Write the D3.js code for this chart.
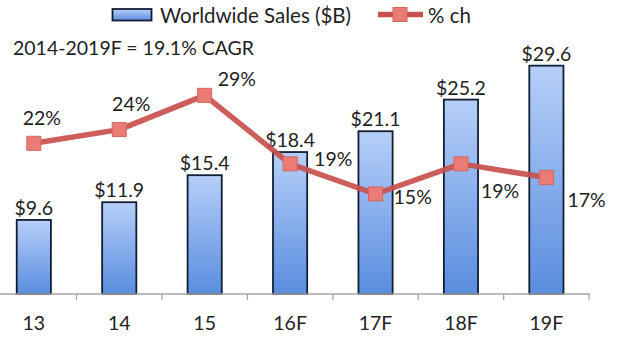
<!DOCTYPE html>
<html><head><meta charset="utf-8">
<script src="https://cdn.jsdelivr.net/npm/d3@7"></script>
<style>
html,body{margin:0;padding:0;background:#fff;}
svg{display:block;font-family:Lato,"Open Sans",sans-serif;}
</style></head>
<body><svg id="chart" width="618" height="338"></svg>
<script>
const categories = ["13","14","15","16F","17F","18F","19F"];
const salesValues = [9.6, 11.9, 15.4, 18.4, 21.1, 25.2, 29.6];
const pctChange = [22, 24, 29, 19, 14.6, 19, 17];
const salesLabels = ["$9.6","$11.9","$15.4","$18.4","$21.1","$25.2","$29.6"];
const pctLabels = ["22%","24%","29%","19%","15%","19%","17%"];
const salesDomain = [0, 35];
const pctDomain = [0, 40];
const legendItems = ["Worldwide Sales ($B)", "% ch"];
const noteText = "2014-2019F = 19.1% CAGR";

// label placement (offset of text relative to point), styling config
const pctLabelPlace = [
  {anchor:"middle", dx:8, dy:-18},
  {anchor:"middle", dx:12, dy:-19},
  {anchor:"start", dx:13, dy:-9},
  {anchor:"start", dx:24, dy:2},
  {anchor:"start", dx:18, dy:10},
  {anchor:"start", dx:20, dy:34},
  {anchor:"start", dx:21, dy:29}
];

const svg = d3.select("#chart");
const baseY = 294;
const fontSize = 19.5;

const defs = svg.append("defs");
const grad = defs.append("linearGradient").attr("id","barGrad")
  .attr("x1",0).attr("y1",0).attr("x2",0).attr("y2",1);
grad.append("stop").attr("offset","0%").attr("stop-color","#b6cff8");
grad.append("stop").attr("offset","100%").attr("stop-color","#5a8ddf");

const x = d3.scaleBand().domain(categories).range([-8.9, 589.1])
  .paddingInner(0.6).paddingOuter(0.3);
const y = d3.scaleLinear().domain(salesDomain).range([baseY, 24]);
const y2 = d3.scaleLinear().domain(pctDomain).range([baseY, 20]);

// bars
svg.append("g").selectAll("rect").data(salesValues).join("rect")
  .attr("x",(d,i)=>x(categories[i]))
  .attr("y",d=>y(d))
  .attr("width",x.bandwidth())
  .attr("height",d=>baseY-y(d))
  .attr("fill","url(#barGrad)")
  .attr("stroke","#121e33").attr("stroke-width",1.8);

// axis
const axisG = svg.append("g").attr("transform",`translate(0,${baseY})`);
const xAxis = d3.axisBottom(x).tickSize(0).tickPadding(0);
axisG.call(xAxis);
axisG.select(".domain").attr("d","M0,0H590").attr("stroke","#a6a6a6").attr("stroke-width",1.3);
axisG.selectAll(".tick text")
  .attr("y",36).attr("dy",0)
  .attr("font-size",fontSize).attr("font-family","Lato, sans-serif").attr("fill","#222");
const bounds = categories.map(c => x(c) - x.step()*x.paddingInner()/2 + x.step());
axisG.append("g").selectAll("line").data(bounds).join("line")
  .attr("x1",d=>d).attr("x2",d=>d).attr("y1",0).attr("y2",6)
  .attr("stroke","#a6a6a6").attr("stroke-width",1.3);

// bar labels
svg.append("g").selectAll("text").data(salesValues).join("text")
  .attr("x",(d,i)=>x(categories[i])+x.bandwidth()/2)
  .attr("y",d=>y(d)-5)
  .attr("text-anchor","middle")
  .attr("font-size",fontSize).attr("fill","#222")
  .text((d,i)=>salesLabels[i]);

// line
const cx = (i)=>x(categories[i])+x.bandwidth()/2;
const line = d3.line().x((d,i)=>cx(i)).y(d=>y2(d));
svg.append("path").datum(pctChange).attr("d",line)
  .attr("fill","none").attr("stroke","#c8504d").attr("stroke-width",5.5)
  .attr("stroke-linejoin","round").attr("opacity",0.92);
svg.append("g").selectAll("rect").data(pctChange).join("rect")
  .attr("x",(d,i)=>cx(i)-7).attr("y",d=>y2(d)-7)
  .attr("width",14).attr("height",14)
  .attr("fill","#ea7b77").attr("stroke","#d3665f").attr("stroke-width",1);

// pct labels
svg.append("g").selectAll("text").data(pctChange).join("text")
  .attr("x",(d,i)=>cx(i)+pctLabelPlace[i].dx)
  .attr("y",(d,i)=>y2(d)+pctLabelPlace[i].dy)
  .attr("text-anchor",(d,i)=>pctLabelPlace[i].anchor)
  .attr("font-size",fontSize).attr("fill","#222")
  .text((d,i)=>pctLabels[i]);

// note
svg.append("text").attr("x",13).attr("y",55)
  .attr("font-size",fontSize).attr("fill","#222").text(noteText);

// legend
const lg = svg.append("g");
lg.append("rect").attr("x",112.5).attr("y",9).attr("width",39).attr("height",11.5)
  .attr("fill","url(#barGrad)").attr("stroke","#121e33").attr("stroke-width",1.8);
lg.append("text").attr("x",160).attr("y",22.5).attr("font-size",20.5).attr("fill","#222").text(legendItems[0]);
lg.append("line").attr("x1",378).attr("x2",423).attr("y1",14.5).attr("y2",14.5)
  .attr("stroke","#c8504d").attr("stroke-width",5.5);
lg.append("rect").attr("x",393).attr("y",7.5).attr("width",14).attr("height",14)
  .attr("fill","#ea7b77").attr("stroke","#d3665f").attr("stroke-width",1);
lg.append("text").attr("x",428).attr("y",22.5).attr("font-size",20.5).attr("fill","#222").text(legendItems[1]);
</script></body></html>
